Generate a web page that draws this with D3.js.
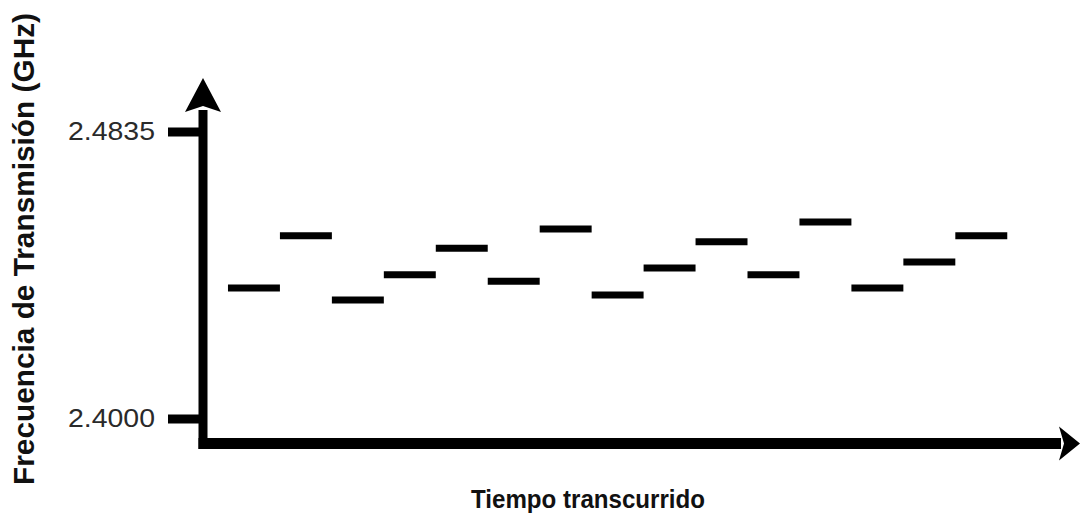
<!DOCTYPE html>
<html lang="es">
  <head>
    <meta charset="utf-8">
    <title>Saltos de frecuencia</title>
    <script src="https://cdn.jsdelivr.net/npm/d3@7"></script>
    <style>
      body { margin: 0; background: #fff; }
    </style>
  </head>
  <body>
    <script>
      // Hop data: time slot (start) and transmit frequency in GHz
      var hopStart = [0.5, 1.5, 2.5, 3.5, 4.5, 5.5, 6.5, 7.5, 8.5, 9.5, 10.5, 11.5, 12.5, 13.5, 14.5];
      var hopFreq = [2.4380, 2.4532, 2.4345, 2.4418, 2.4495, 2.4399, 2.4551, 2.4359,
                     2.4438, 2.4514, 2.4418, 2.4572, 2.4380, 2.4455, 2.4532];
      var hopLength = 1;
      var tickValues = [2.4000, 2.4835];
      var tickLabels = ["2.4000", "2.4835"];
      var xTitle = "Tiempo transcurrido";
      var yTitle = "Frecuencia de Transmisión (GHz)";

      var width = 1081, height = 517;
      var svg = d3.select("body").append("svg")
                  .attr("width", width)
                  .attr("height", height);

      // scales (pixel ranges tuned to the picture)
      var x = d3.scaleLinear().domain([0, 16.9]).range([202, 1080]);
      var y = d3.scaleLinear().domain([2.4, 2.4835]).range([418.5, 131.5]);

      var x0 = 203;          // y axis position
      var yBase = 443.5;     // x axis position

      // y axis ticks
      var yAxis = svg.append("g")
        .attr("transform", "translate(" + x0 + ",0)")
        .call(d3.axisLeft(y)
          .tickValues(tickValues)
          .tickSize(35)
          .tickPadding(13)
          .tickFormat(function(d, i) { return tickLabels[i]; }));
      yAxis.select(".domain").remove();
      yAxis.selectAll(".tick line")
        .attr("stroke", "#000")
        .attr("stroke-width", 9);
      yAxis.selectAll(".tick text")
        .attr("fill", "#2a2a2a")
        .attr("font-family", "Liberation Sans, Arial, sans-serif")
        .attr("font-size", 26)
        .attr("textLength", 87)
        .attr("lengthAdjust", "spacingAndGlyphs");

      // vertical axis line + arrow
      var yTop = y(2.4991), yArrowBack = 112;
      svg.append("line")
        .attr("x1", x0).attr("x2", x0)
        .attr("y1", yBase + 5.5).attr("y2", yArrowBack - 2)
        .attr("stroke", "#000").attr("stroke-width", 9);
      svg.append("path")
        .attr("d", "M" + x0 + "," + yTop +
                   "L" + (x0 + 18) + "," + yArrowBack +
                   "L" + x0 + "," + (yArrowBack - 6) +
                   "L" + (x0 - 18) + "," + yArrowBack + "Z")
        .attr("fill", "#000");

      // horizontal axis line + arrow
      var xEnd = x(16.9), xArrowBack = 1059;
      svg.append("line")
        .attr("x1", x0 - 4.5).attr("x2", xArrowBack + 2)
        .attr("y1", yBase).attr("y2", yBase)
        .attr("stroke", "#000").attr("stroke-width", 11);
      svg.append("path")
        .attr("d", "M" + xEnd + "," + yBase +
                   "L" + xArrowBack + "," + (yBase + 17) +
                   "L" + (xArrowBack + 5) + "," + yBase +
                   "L" + xArrowBack + "," + (yBase - 17) + "Z")
        .attr("fill", "#000");

      // frequency hops
      svg.append("g").selectAll("line")
        .data(hopStart)
        .enter()
        .append("line")
        .attr("x1", function(d) { return x(d); })
        .attr("x2", function(d) { return x(d + hopLength); })
        .attr("y1", function(d, i) { return y(hopFreq[i]); })
        .attr("y2", function(d, i) { return y(hopFreq[i]); })
        .attr("stroke", "#000")
        .attr("stroke-width", 7);

      // axis titles
      svg.append("text")
        .attr("x", 588)
        .attr("y", 508)
        .attr("text-anchor", "middle")
        .attr("font-family", "Liberation Sans, Arial, sans-serif")
        .attr("font-weight", "bold")
        .attr("font-size", 25)
        .attr("fill", "#111")
        .attr("textLength", 234)
        .attr("lengthAdjust", "spacingAndGlyphs")
        .text(xTitle);

      svg.append("text")
        .attr("transform", "translate(34,249) rotate(-90)")
        .attr("text-anchor", "middle")
        .attr("font-family", "Liberation Sans, Arial, sans-serif")
        .attr("font-weight", "bold")
        .attr("font-size", 29)
        .attr("fill", "#111")
        .attr("textLength", 472)
        .attr("lengthAdjust", "spacingAndGlyphs")
        .text(yTitle);
    </script>
  </body>
</html>
